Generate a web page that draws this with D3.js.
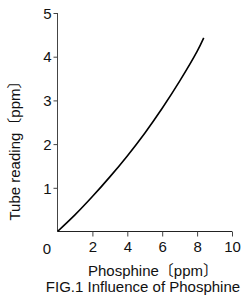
<!DOCTYPE html>
<html>
<head>
<meta charset="utf-8">
<script src="https://cdn.jsdelivr.net/npm/d3@7"></script>
<style>
  body { margin: 0; background: #fff; }
  text { font-family: "Liberation Sans", Arial, "Noto Sans CJK JP", sans-serif; fill: #111; }
</style>
</head>
<body>
<svg width="249" height="296"></svg>
<script>
// phosphine concentration vs tube reading (ppm)
var phosphine = [0, 1, 2, 3, 4, 5, 6, 7, 8, 8.38]
var reading = [0, 0.38, 0.8, 1.25, 1.73, 2.25, 2.82, 3.44, 4.12, 4.43]
var xTicks = [2, 4, 6, 8, 10]
var yTicks = [1, 2, 3, 4, 5]
var xLabel = 'Phosphine〔ppm〕'
var yLabel = 'Tube reading〔ppm〕'
var title = 'FIG.1 Influence of Phosphine'

var svg = d3.select('svg')
var margin = {left: 57.5, top: 13, right: 17, bottom: 64.5}
var width = 249 - margin.left - margin.right,
  height = 296 - margin.top - margin.bottom

var x = d3.scaleLinear().domain([0, 10]).range([0, width])
var y = d3.scaleLinear().domain([0, 5]).range([height, 0])

var g = svg.append('g')
  .attr('transform', 'translate(' + margin.left + ',' + margin.top + ')')

var xAxis = g.append('g')
  .attr('transform', 'translate(0,' + height + ')')
  .call(d3.axisBottom(x).tickValues(xTicks).tickFormat(d3.format('d'))
    .tickSize(5).tickSizeOuter(0).tickPadding(5))
var yAxis = g.append('g')
  .call(d3.axisLeft(y).tickValues(yTicks).tickFormat(d3.format('d'))
    .tickSize(4).tickSizeOuter(0).tickPadding(2))

xAxis.select('.domain').attr('d', 'M0,0H' + width).attr('stroke', '#222')
yAxis.select('.domain').attr('d', 'M0,0V' + height).attr('stroke', '#444')
g.selectAll('.tick line').attr('stroke', '#444')
g.selectAll('.tick text').style('font-size', '15px').attr('fill', '#111')
yAxis.selectAll('.tick text').attr('dy', '0.35em')

// shared zero at the corner
g.append('text')
  .attr('x', -10.5)
  .attr('y', height + 22)
  .attr('text-anchor', 'middle')
  .style('font-size', '15px')
  .text('0')

var line = d3.line()
  .x(function(d, i) { return x(phosphine[i]) })
  .y(function(d) { return y(d) })
  .curve(d3.curveCatmullRom)

g.append('path')
  .datum(reading)
  .attr('fill', 'none')
  .attr('stroke', '#000')
  .attr('stroke-width', 1.6)
  .attr('d', line)

svg.append('text')
  .attr('x', 153)
  .attr('y', 276)
  .attr('text-anchor', 'middle')
  .style('font-size', '15px')
  .text(xLabel)

svg.append('text')
  .attr('x', 143)
  .attr('y', 292)
  .attr('text-anchor', 'middle')
  .style('font-size', '15px')
  .text(title)

svg.append('text')
  .attr('transform', 'translate(20,147) rotate(-90)')
  .attr('text-anchor', 'middle')
  .style('font-size', '15px')
  .text(yLabel)
</script>
</body>
</html>
